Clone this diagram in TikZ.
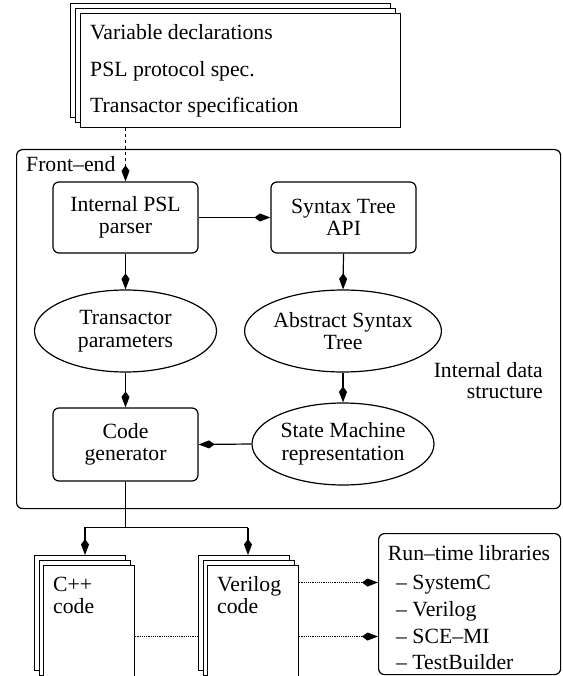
\documentclass[tikz,border=0pt]{standalone}
\usepackage{fontspec}
\setmainfont{Liberation Serif}
\usetikzlibrary{arrows.meta,shapes.geometric}
\begin{document}
\begin{tikzpicture}[x=1pt,y=-1pt,
  every node/.style={font=\fontsize{21.7}{22.5}\selectfont, inner sep=0pt},
  lw/.style={line width=1.2pt},
  tip/.style={-{Kite[length=16pt,width=8pt,inset=5.5pt]}},
  rbox/.style={draw, line width=1.2pt, rounded corners=6pt, minimum width=145pt, minimum height=71pt, align=center},
  ell/.style={draw, line width=1.2pt, ellipse, minimum width=182pt, minimum height=82pt, align=center},
  page/.style={draw, line width=1.2pt, fill=white, minimum width=91pt, minimum height=115pt, anchor=north west},
  toppage/.style={draw, line width=1.2pt, fill=white, minimum width=320pt, minimum height=114pt, anchor=north west},
  txt/.style={anchor=base west},
]
\useasboundingbox (0,0) rectangle (562,676);

% top stack
\node[toppage] (spec3) at (70,3) {};
\node[toppage] (spec2) at (75,8) {};
\node[toppage] (spec1) at (80,13) {};
\node[txt] (s1) at (90,40) {Variable declarations};
\node[txt] (s2) at (90,77) {PSL protocol spec.};
\node[txt] (s3) at (90,113) {Transactor specification};

% front-end box
\node[draw, lw, rounded corners=6pt, anchor=north west, minimum width=544pt, minimum height=359pt] (fe) at (16,149) {};
\node[txt] (felabel) at (26,172) {Front–end};

\node[rbox] (parser) at (125.5,217.5) {Internal PSL\\parser};
\node[rbox] (api) at (343.5,217.5) {Syntax Tree\\API};
\node[ell] (tp) at (125.5,331) {Transactor\\parameters};
\node[ell] (ast) at (343,331) {Abstract Syntax\\Tree};
\node[rbox, minimum height=73pt] (cg) at (125.5,444.5) {Code\\generator};
\node[ell] (sm) at (343,444) {State Machine\\representation};

\node[anchor=base east] (ids1) at (543,377) {Internal data};
\node[anchor=base east] (ids2) at (543,398) {structure};

\draw[lw, dashed, tip] (parser.north |- spec1.south) -- (parser.north);
\draw[lw, tip] (parser.east) -- (api.west);
\draw[lw, tip] (parser.south) -- (tp.north);
\draw[lw, tip] (api.south) -- (ast.north);
\draw[lw, tip] (tp.south) -- (cg.north);
\draw[lw, tip] (ast.south) -- (sm.north);
\draw[lw, tip] (sm.west) -- (cg.east);

% output stacks
\node[page] (cpp3) at (34,555) {};
\node[page] (cpp2) at (38.5,560) {};
\node[page] (cpp1) at (43,565) {};
\node[txt] (c1) at (53,591) {C++};
\node[txt] (c2) at (53,613) {code};

\node[page] (ver3) at (198,555) {};
\node[page] (ver2) at (202.5,560) {};
\node[page] (ver1) at (207,565) {};
\node[txt] (v1) at (217,591) {Verilog};
\node[txt] (v2) at (217,613) {code};

\coordinate (bl) at (85,527.5);
\coordinate (brr) at (248,527.5);
\draw[lw] (cg.south) -- (cg.south |- bl);
\draw[lw, tip] (brr) -- (bl) -- (bl |- cpp3.north);
\draw[lw, tip] (brr) -- (brr |- ver3.north);

% run-time libraries
\node[draw, lw, rounded corners=6pt, anchor=north west, minimum width=182pt, minimum height=141pt] (rt) at (378,533) {};
\node[anchor=base] (rtt) at (469,560) {Run–time libraries};
\node[txt] (r1) at (396,589) {– SystemC};
\node[txt] (r2) at (396,616) {– Verilog};
\node[txt] (r3) at (396,643) {– SCE–MI};
\node[txt] (r4) at (396,669) {– TestBuilder};

\coordinate (du) at (0,582.5);
\coordinate (dl) at (0,636.5);
\draw[lw, densely dotted] (cpp1.east |- dl) -- (ver3.west |- dl);
\draw[lw, densely dotted, tip] (ver1.east |- du) -- (rt.west |- du);
\draw[lw, densely dotted, tip] (ver1.east |- dl) -- (rt.west |- dl);
\end{tikzpicture}
\end{document}
